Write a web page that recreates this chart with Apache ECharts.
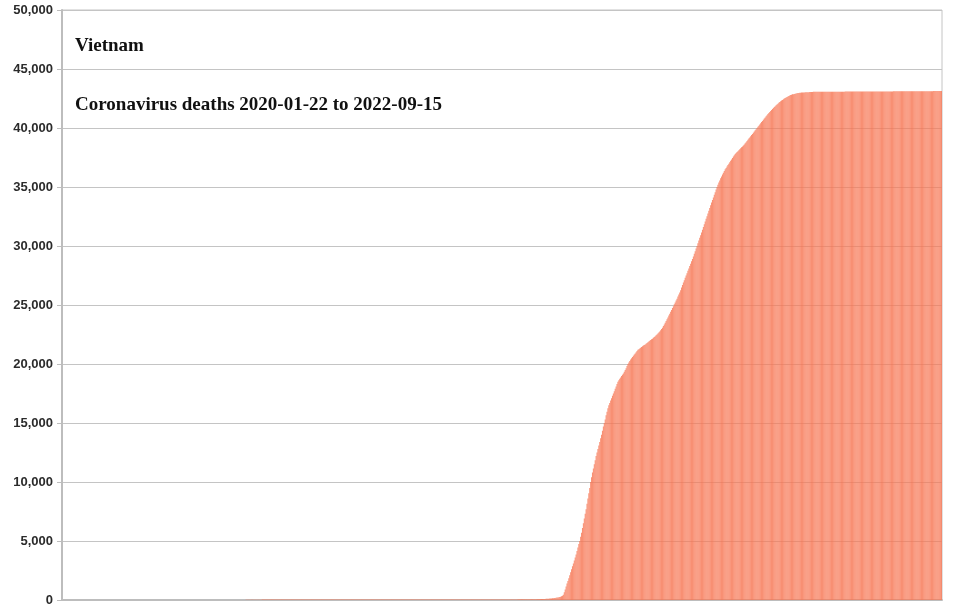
<!DOCTYPE html>
<html>
<head>
<meta charset="utf-8">
<title>Vietnam coronavirus deaths</title>
<script src="https://cdn.jsdelivr.net/npm/echarts@6/dist/echarts.min.js"></script>
<style>
	html, body { margin: 0; padding: 0; background: #fff; }
	#echart_bar_chart { width: 960px; height: 607px; }
</style>
</head>
<body>
<div id="echart_bar_chart"></div>
<script>
// cumulative deaths per day
var startDate = '2020-01-22';
var chartTitle = 'Vietnam';
var chartSubtitle = 'Coronavirus deaths 2020-01-22 to 2022-09-15';

// 2020-01-22 .. 2020-12-31
var deaths2020 = [
	0,0,0,0,0,0,0,0,0,0, 0,0,0,0,0,0,0,0,0,0, 0,0,0,0,0,0,0,0,0,0,
	0,0,0,0,0,0,0,0,0,0, 0,0,0,0,0,0,0,0,0,0, 0,0,0,0,0,0,0,0,0,0,
	0,0,0,0,0,0,0,0,0,0, 0,0,0,0,0,0,0,0,0,0, 0,0,0,0,0,0,0,0,0,0,
	0,0,0,0,0,0,0,0,0,0, 0,0,0,0,0,0,0,0,0,0, 0,0,0,0,0,0,0,0,0,0,
	0,0,0,0,0,0,0,0,0,0, 0,0,0,0,0,0,0,0,0,0, 0,0,0,0,0,0,0,0,0,0,
	0,0,0,0,0,0,0,0,0,0, 0,0,0,0,0,0,0,0,0,0, 0,0,0,0,0,0,0,0,0,0,
	0,0,0,0,0,0,0,0,0,0, 0,
	1,1,3,3,6,6,8,8,10,10, 10,11,14,15,16,17,20,21,22,22, 23,24,25,25,26,27,27,28,30,32, 33,34,34,35,35,
	35,35,35,35,35,35,35,35,35,35, 35,35,35,35,35,35,35,35,35,35, 35,35,35,35,35,35,35,35,35,35,
	35,35,35,35,35,35,35,35,35,35, 35,35,35,35,35,35,35,35,35,35, 35,35,35,35,35,35,35,35,35,35,
	35,35,35,35,35,35,35,35,35,35, 35,35,35,35,35,35,35,35,35,35, 35,35,35,35,35,35,35,35,35,35,
	35,35,35,35,35,35,35,35,35,35, 35,35,35,35,35,35,35,35,35,35, 35,35,35,35,35,35,35,35,35
];

// 2021-01-01 .. 2021-12-31
var deaths2021 = [
	35,35,35,35,35,35,35,35,35,35, 35,35,35,35,35,35,35,35,35,35, 35,35,35,35,35,35,35,35,35,35,
	35,35,35,35,35,35,35,35,35,35, 35,35,35,35,35,35,35,35,35,35, 35,35,35,35,35,35,35,35,35,35,
	35,35,35,35,35,35,35,35,35,35, 35,35,35,35,35,35,35,35,35,35, 35,35,35,35,35,35,35,35,35,35,
	35,35,35,35,35,35,35,35,35,35, 35,35,35,35,35,35,35,35,35,35, 35,35,35,35,35,35,35,35,35,35,
	// May
	35,35,35,35,35,35,35,36,37,37,38,38,39,39,39,40,41,41,42,43,43,44,44,45,45,46,46,46,47,47,47,
	// Jun
	48,49,49,50,52,53,54,55,55,57,58,59,61,62,63,64,65,66,67,68,69,70,71,72,73,74,75,76,78,80,
	// Jul
	82,84,86,88,91,95,99,103,108,113,118,125,132,140,150,162,175,190,205,222,240,260,285,315,350,450,650,900,1150,1400,1620,
	// Aug
	1850,2100,2350,2600,2850,3100,3350,3600,3850,4150,4450,4750,5000,5350,5700,6100,
	6500,6900,7300,7700,8150,8600,9050,9500,10000,10400,10800,11150,11500,11850,12200,
	// Sep
	12500,12800,13100,13400,13700,14000,14350,14700,15000,15300,15650,15950,16250,16500,16700,
	16900,17100,17300,17500,17700,17900,18100,18300,18500,18620,18740,18860,18980,19090,19200,
	// Oct
	19350,19500,19650,19820,20000,20130,20260,20380,20490,20600,20700,20800,20900,21000,21100,21200,
	21260,21320,21380,21440,21500,21560,21610,21660,21720,21780,21840,21900,21960,22030,22090,
	// Nov
	22150,22220,22290,22360,22430,22500,22580,22660,22750,22850,22960,23080,23210,23350,23500,
	23650,23800,23950,24100,24260,24420,24580,24740,24900,25060,25220,25380,25540,25710,25880,
	// Dec
	26060,26260,26480,26700,26900,27100,27300,27500,27700,27900,28100,28300,28500,28700,28900,29120,
	29340,29560,29780,30000,30230,30460,30690,30920,31150,31380,31610,31840,32070,32300,32530
];

// 2022-01-01 .. 2022-09-15
var deaths2022 = [
	// Jan
	32760,32990,33220,33450,33680,33900,34120,34340,34560,34780,35000,35190,35380,35560,35740,35900,
	36050,36200,36350,36500,36620,36740,36860,36980,37100,37220,37340,37460,37580,37700,37800,
	// Feb
	37880,37960,38040,38120,38200,38280,38360,38440,38520,38600,38700,38800,38900,39000,
	39100,39200,39300,39400,39500,39600,39700,39800,39900,40000,40100,40200,40300,40400,
	// Mar
	40500,40600,40700,40800,40900,41000,41090,41180,41270,41360,41450,41530,41610,41690,41770,41850,
	41920,41990,42060,42130,42200,42260,42320,42380,42440,42490,42540,42590,42630,42670,42710,
	// Apr
	42750,42790,42820,42850,42870,42890,42910,42930,42945,42960,42970,42980,42990,43000,43005,
	43010,43015,43020,43025,43030,43035,43040,43045,43050,43055,43060,43062,43064,43066,43068,
	// May
	43070,43070,43071,43071,43072,43072,43073,43073,43074,43074,43075,43075,43076,43076,43077,43077,
	43078,43078,43078,43079,43079,43079,43080,43080,43080,43080,43081,43081,43081,43082,43082,
	// Jun
	43083,43083,43084,43084,43084,43085,43085,43085,43086,43086,43086,43087,43087,43087,43088,
	43088,43088,43089,43089,43089,43090,43090,43090,43091,43091,43091,43092,43092,43092,43093,
	// Jul
	43093,43094,43094,43094,43095,43095,43095,43096,43096,43097,43097,43098,43098,43099,43099,43100,
	43100,43101,43101,43102,43102,43103,43103,43104,43104,43105,43105,43106,43106,43107,43107,
	// Aug
	43108,43108,43109,43109,43110,43110,43111,43111,43112,43112,43113,43113,43114,43114,43115,43115,
	43116,43116,43117,43117,43118,43118,43119,43119,43120,43120,43121,43121,43122,43122,43123,
	// Sep
	43123,43124,43124,43125,43125,43126,43126,43127,43127,43128,43128,43129,43129,43130,43130
];

var yTicks = [0, 5000, 10000, 15000, 20000, 25000, 30000, 35000, 40000, 45000, 50000];

var deaths = deaths2020.concat(deaths2021, deaths2022);

// one category per day
var days = [];
var d = new Date(startDate + 'T00:00:00Z');
for (var i = 0; i < deaths.length; i++) {
	days.push(d.toISOString().slice(0, 10));
	d.setUTCDate(d.getUTCDate() + 1);
}

var myChart = echarts.init(document.getElementById('echart_bar_chart'));

var titleFont = { fontFamily: 'Liberation Serif', fontWeight: 'bold', fontSize: 19, color: '#111' };

var option = {
	animation: false,
	backgroundColor: '#fff',
	title: [{
		text: chartTitle,
		left: 70,
		top: 32,
		textStyle: titleFont
	}, {
		text: chartSubtitle,
		left: 70,
		top: 91,
		textStyle: titleFont
	}],
	grid: {
		left: 62,
		right: 18,
		top: 10,
		bottom: 7,
		show: true,
		borderColor: '#c4c4c4',
		borderWidth: 1
	},
	xAxis: {
		type: 'category',
		data: days,
		axisLine: { lineStyle: { color: '#bdbdbd', width: 2 } },
		axisTick: { show: false },
		axisLabel: { show: false },
		splitLine: { show: false }
	},
	yAxis: {
		type: 'value',
		min: yTicks[0],
		max: yTicks[yTicks.length - 1],
		interval: yTicks[1] - yTicks[0],
		axisLine: { show: true, lineStyle: { color: '#bdbdbd', width: 2 } },
		axisTick: { show: true, length: 5, lineStyle: { color: '#bdbdbd' } },
		axisLabel: {
			margin: 9,
			fontFamily: 'Liberation Sans',
			fontWeight: 'bold',
			fontSize: 13,
			color: '#2b2b2b',
			formatter: function(v) { return v.toLocaleString('en-US'); }
		},
		splitLine: { lineStyle: { color: '#c4c4c4', width: 1 } }
	},
	series: [{
		name: 'Deaths',
		type: 'bar',
		data: deaths,
		barCategoryGap: '20%',
		itemStyle: { color: 'rgba(247,120,86,0.82)' }
	}]
};

myChart.setOption(option);
</script>
</body>
</html>
